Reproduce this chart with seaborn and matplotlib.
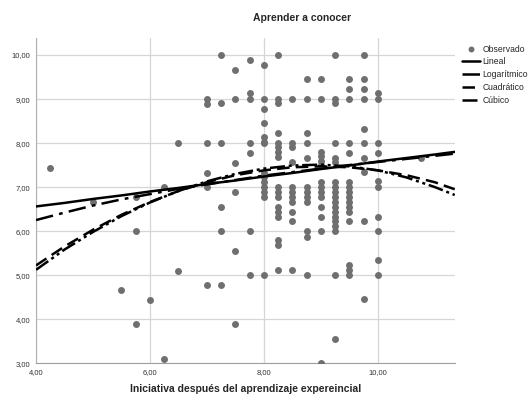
import matplotlib
matplotlib.use("Agg")
import matplotlib.pyplot as plt
import seaborn as sns
import pandas as pd

x_levels = [4.25, 5.0, 5.5, 5.75, 6.0, 6.25, 6.5, 7.0, 7.25, 7.5, 7.75, 8.0,
            8.25, 8.5, 8.75, 9.0, 9.25, 9.5, 9.75, 10.0, 10.75]
y_by_level = [
    [7.44],
    [6.67],
    [4.66],
    [6.78, 6.0, 3.89],
    [4.43],
    [7.0, 3.09],
    [8.0, 5.1],
    [9.0, 8.89, 8.0, 7.33, 7.0, 4.77],
    [10.0, 8.9, 8.0, 6.55, 6.0, 4.77],
    [9.66, 9.0, 7.55, 6.89, 5.55, 3.88],
    [9.89, 9.13, 9.0, 8.0, 7.78, 6.0, 5.0],
    [9.77, 9.0, 8.77, 8.45, 8.14, 8.03, 8.0, 7.33, 7.22, 7.11, 7.0, 6.89, 6.78, 5.0],
    [10.0, 9.0, 8.9, 8.23, 8.0, 7.9, 7.8, 7.69, 7.0, 6.89, 6.78, 6.55, 6.44, 6.33,
     5.8, 5.68, 5.11],
    [9.0, 8.0, 7.9, 7.58, 7.0, 6.89, 6.78, 6.67, 6.44, 6.23, 5.11],
    [9.45, 9.0, 8.23, 8.0, 7.67, 7.0, 6.89, 6.78, 6.67, 6.0, 5.87, 5.0],
    [9.45, 9.0, 7.8, 7.7, 7.6, 7.5, 7.11, 7.0, 6.89, 6.78, 6.55, 6.33, 6.0, 3.0],
    [10.0, 9.0, 8.9, 8.0, 7.67, 7.58, 7.11, 7.0, 6.89, 6.78, 6.67, 6.55, 6.44, 6.33,
     6.22, 6.11, 6.0, 5.0, 3.55],
    [9.45, 9.22, 9.0, 8.0, 7.78, 7.11, 7.0, 6.89, 6.78, 6.67, 6.55, 6.44, 6.22,
     5.22, 5.11, 5.0],
    [10.0, 9.45, 9.22, 9.0, 8.33, 8.0, 7.67, 7.35, 6.22, 4.45],
    [9.13, 9.0, 8.0, 7.78, 7.14, 7.0, 6.33, 6.0, 5.34, 5.0],
    [7.67],
]

# Fitted curves
curve_x = [4.0, 4.5, 5.0, 5.5, 6.0, 6.5, 7.0, 7.5, 8.0, 8.5, 9.0, 9.5, 10.0, 10.5, 11.0, 11.35]
lineal = [6.56, 6.64, 6.73, 6.81, 6.90, 6.98, 7.07, 7.15, 7.24, 7.32, 7.41, 7.49, 7.58, 7.66, 7.74, 7.80]
logaritmico = [6.25, 6.42, 6.58, 6.72, 6.84, 6.96, 7.06, 7.16, 7.26, 7.34, 7.42, 7.50, 7.57, 7.64, 7.71, 7.76]
cuadratico = [5.22, 5.65, 6.03, 6.37, 6.66, 6.91, 7.11, 7.27, 7.38, 7.45, 7.47, 7.45, 7.38, 7.27, 7.11, 6.95]
cubico = [5.12, 5.58, 5.98, 6.34, 6.65, 6.91, 7.13, 7.30, 7.42, 7.49, 7.51, 7.47, 7.38, 7.22, 7.00, 6.82]

xs, ys = [], []
for xv, col in zip(x_levels, y_by_level):
    for yv in col:
        xs.append(xv)
        ys.append(yv)
obs = pd.DataFrame({"x": xs, "y": ys})
curves = pd.DataFrame({"x": curve_x, "lin": lineal, "log": logaritmico,
                       "quad": cuadratico, "cub": cubico})

sns.set_style("white")
plt.rcParams["font.family"] = ["Liberation Sans", "DejaVu Sans"]

fig = plt.figure(figsize=(5.3, 4.03), dpi=100)
ax = fig.add_axes([0.068, 0.099, 0.79, 0.807])

sns.scatterplot(data=obs, x="x", y="y", ax=ax, color="#6f6f6f", s=25,
                edgecolor="#6f6f6f", linewidth=0, label="Observado", zorder=3)
sns.lineplot(data=curves, x="x", y="lin", ax=ax, color="black", lw=1.8,
             label="Lineal", zorder=4)
sns.lineplot(data=curves, x="x", y="log", ax=ax, color="black", lw=1.8,
             linestyle=(0, (7, 2.5, 1.5, 2.5)), label="Logarítmico", zorder=4)
sns.lineplot(data=curves, x="x", y="quad", ax=ax, color="black", lw=1.8,
             linestyle=(0, (5, 2.5)), label="Cuadrático", zorder=4)
sns.lineplot(data=curves, x="x", y="cub", ax=ax, color="black", lw=1.8,
             linestyle=(0, (6, 1.5, 1.2, 1.5, 1.2, 1.5)), label="Cúbico", zorder=4)

ax.set_xlim(4, 11.35)
ax.set_ylim(3, 10.39)
ax.set_xticks([4, 6, 8, 10])
ax.set_xticklabels(["4,00", "6,00", "8,00", "10,00"])
ax.set_yticks([3, 4, 5, 6, 7, 8, 9, 10])
ax.set_yticklabels(["3,00", "4,00", "5,00", "6,00", "7,00", "8,00", "9,00", "10,00"])
ax.tick_params(length=0, labelsize=5.5, labelcolor="#333333", pad=4)
ax.grid(True, color="#d6d6d6", lw=0.9)
ax.set_axisbelow(True)
for s in ["top", "right"]:
    ax.spines[s].set_visible(False)
ax.spines["left"].set_color("#b0b0b0")
ax.spines["bottom"].set_color("#a0a0a0")
ax.set_ylabel("")
ax.set_xlabel("Iniciativa después del aprendizaje expereincial",
              fontsize=7.5, fontweight="bold", labelpad=6)

fig.text(0.57, 0.955, "Aprender a conocer", fontsize=7.5, fontweight="bold",
         ha="center", va="center")

ax.legend(loc="upper left", bbox_to_anchor=(1.01, 0.99), frameon=False,
          fontsize=6.2, handlelength=2.0, handletextpad=0.3, labelspacing=0.45,
          borderaxespad=0, markerscale=0.85)

fig.savefig("out.png", dpi=100)
